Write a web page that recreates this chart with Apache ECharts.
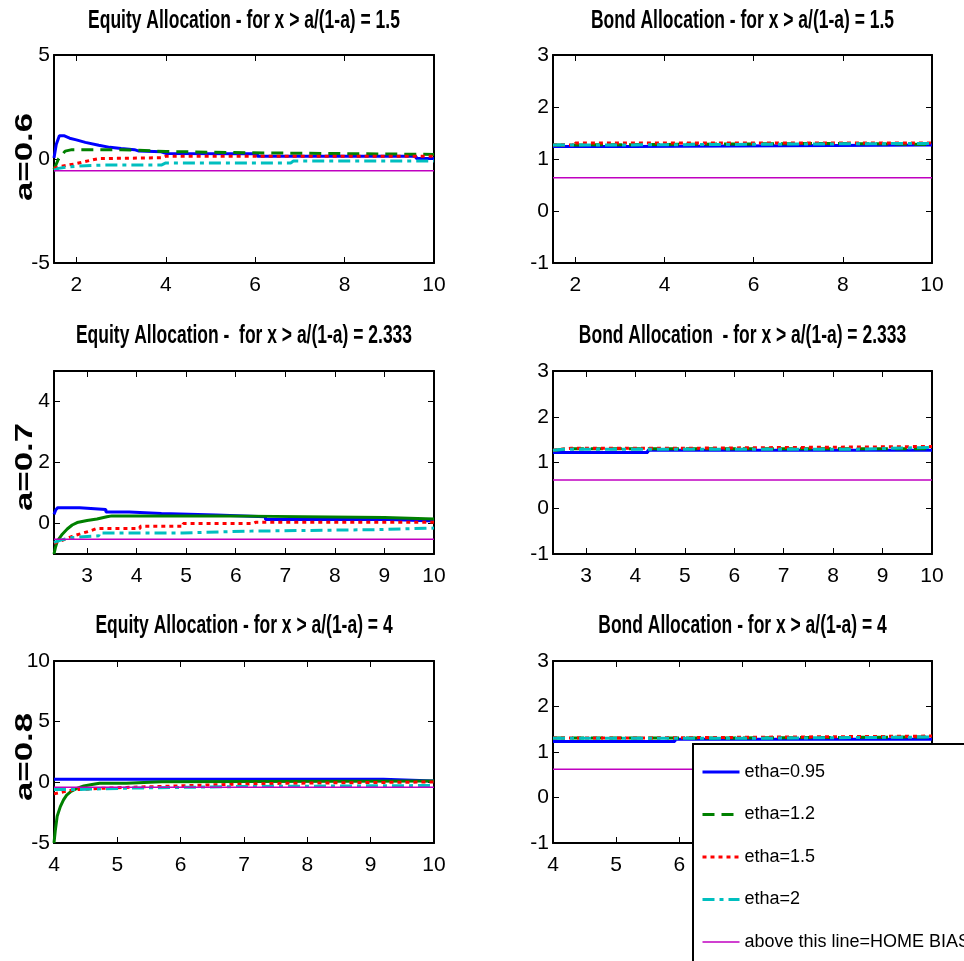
<!DOCTYPE html>
<html><head><meta charset="utf-8">
<script src="https://cdn.jsdelivr.net/npm/echarts@6/dist/echarts.min.js"></script>
<style>html,body{margin:0;padding:0;background:#fff}#c{width:964px;height:961px}</style>
</head><body><div id="c"></div><script>
// ---------- data ----------
const seriesNames = ['etha=0.95', 'etha=1.2', 'etha=1.5', 'etha=2', 'above this line=HOME BIAS'];
const panelTitles = [
  'Equity Allocation - for x > a/(1-a) = 1.5',
  'Bond Allocation - for x > a/(1-a) = 1.5',
  'Equity Allocation -  for x > a/(1-a) = 2.333',
  'Bond Allocation  - for x > a/(1-a) = 2.333',
  'Equity Allocation - for x > a/(1-a) = 4',
  'Bond Allocation - for x > a/(1-a) = 4'
];
const rowLabels = ['a=0.6', 'a=0.7', 'a=0.8'];

const xRange1 = [1.5, 10], xRange2 = [2.333, 10], xRange3 = [4, 10];
const xTicks1 = [2, 4, 6, 8, 10];
const xTicks2 = [3, 4, 5, 6, 7, 8, 9, 10];
const xTicks3 = [4, 5, 6, 7, 8, 9, 10];
const yRangeEq1 = [-5, 5], yTicksEq1 = [-5, 0, 5];
const yRangeEq2 = [-1, 5], yTicksEq2 = [0, 2, 4];
const yRangeEq3 = [-5, 10], yTicksEq3 = [-5, 0, 5, 10];
const yRangeBond = [-1, 3], yTicksBond = [-1, 0, 1, 2, 3];

// a = 0.6, equity
const eq06_blue = [[1.5,0.05],[1.55,0.7],[1.62,1.12],[1.72,1.12],[1.85,1.0],[2.0,0.92],[2.2,0.8],[2.5,0.66],[2.75,0.56],[3.0,0.5],[3.3,0.45],[3.4,0.38],[3.9,0.35],[4.0,0.27],[6.05,0.25],[6.05,0.13],[9.6,0.13],[9.6,0.03],[10,0.03]];
const eq06_green = [[1.5,-0.5],[1.6,0.0],[1.75,0.38],[1.9,0.45],[3.0,0.45],[3.0,0.36],[4.0,0.36],[4.0,0.3],[5.8,0.3],[5.8,0.24],[10,0.22]];
const eq06_red = [[1.5,-0.45],[1.6,-0.38],[1.8,-0.3],[2.0,-0.22],[2.2,-0.12],[2.4,-0.02],[2.5,0.02],[3.9,0.06],[4.0,0.13],[10,0.13]];
const eq06_cyan = [[1.5,-0.55],[1.6,-0.45],[1.8,-0.38],[2.2,-0.32],[2.6,-0.29],[3.9,-0.29],[4.0,-0.19],[6.8,-0.19],[6.85,-0.1],[10,-0.1]];
const eq06_home = [[1.5,-0.56],[10,-0.56]];
// a = 0.6, bond
const bd06_blue = [[1.5,1.24],[3.3,1.24],[3.3,1.27],[10,1.27]];
const bd06_green = [[1.5,1.27],[2.0,1.27],[2.0,1.3],[7.8,1.3],[7.8,1.28],[10,1.28]];
const bd06_red = [[1.5,1.27],[2.0,1.27],[2.0,1.31],[10,1.31]];
const bd06_cyan = [[1.5,1.27],[3.0,1.27],[3.0,1.3],[10,1.3]];
const bd06_home = [[1.5,0.64],[10,0.64]];
// a = 0.7, equity
const eq07_blue = [[2.333,0.3],[2.37,0.45],[2.41,0.52],[2.85,0.52],[2.85,0.46],[3.38,0.46],[3.38,0.38],[3.85,0.38],[3.85,0.33],[4.5,0.33],[4.5,0.28],[5.6,0.28],[5.6,0.22],[6.6,0.22],[6.6,0.13],[9.1,0.13],[9.1,0.08],[10,0.08]];
const eq07_green = [[2.333,-1.0],[2.36,-0.8],[2.4,-0.58],[2.5,-0.35],[2.6,-0.18],[2.7,-0.05],[2.8,0.03],[3.0,0.1],[3.2,0.15],[3.4,0.22],[3.5,0.25],[5.7,0.25],[5.7,0.2],[9.0,0.2],[9.0,0.15],[10,0.15]];
const eq07_red = [[2.333,-0.65],[2.5,-0.55],[2.7,-0.42],[2.9,-0.32],[3.05,-0.25],[3.2,-0.16],[4.07,-0.16],[4.07,-0.09],[4.94,-0.09],[4.94,0.0],[6.35,0.0],[6.4,0.04],[10,0.04]];
const eq07_cyan = [[2.333,-0.62],[2.5,-0.53],[2.7,-0.46],[3.24,-0.4],[3.24,-0.31],[4.93,-0.31],[4.93,-0.25],[6.3,-0.25],[6.3,-0.2],[8.85,-0.2],[8.85,-0.15],[10,-0.15]];
const eq07_home = [[2.333,-0.52],[10,-0.52]];
// a = 0.7, bond
const bd07_blue = [[2.333,1.22],[4.25,1.22],[4.25,1.27],[10,1.27]];
const bd07_green = [[2.333,1.26],[2.6,1.3],[10,1.3]];
const bd07_red = [[2.333,1.27],[2.7,1.31],[4.8,1.31],[4.8,1.35],[10,1.35]];
const bd07_cyan = [[2.333,1.27],[2.6,1.29],[8.4,1.29],[8.4,1.33],[10,1.33]];
const bd07_home = [[2.333,0.62],[10,0.62]];
// a = 0.8, equity
const eq08_blue = [[4,0.26],[9.2,0.26],[9.2,0.12],[10,0.12]];
const eq08_green = [[4,-5],[4.02,-4],[4.05,-2.8],[4.1,-2.0],[4.15,-1.45],[4.2,-1.05],[4.26,-0.78],[4.36,-0.5],[4.47,-0.3],[4.6,-0.18],[4.72,-0.08],[5.14,-0.08],[5.14,0.05],[5.7,0.05],[5.7,0.1],[10,0.12]];
const eq08_red = [[4,-0.95],[4.15,-0.78],[4.3,-0.62],[4.72,-0.5],[5.14,-0.42],[5.14,-0.3],[5.93,-0.3],[5.93,-0.16],[6.83,-0.16],[6.83,-0.08],[7.62,-0.08],[7.62,0.03],[10,0.03]];
const eq08_cyan = [[4,-0.6],[4.3,-0.6],[4.3,-0.48],[5.14,-0.48],[5.14,-0.35],[6.85,-0.35],[6.85,-0.26],[10,-0.26]];
const eq08_home = [[4,-0.4],[10,-0.4]];
// a = 0.8, bond
const bd08_blue = [[4,1.23],[5.93,1.23],[5.93,1.28],[10,1.28]];
const bd08_green = [[4,1.31],[7.0,1.31],[7.0,1.33],[10,1.33]];
const bd08_red = [[4,1.31],[5.6,1.31],[5.6,1.35],[10,1.35]];
const bd08_cyan = [[4,1.3],[7.0,1.3],[7.0,1.33],[10,1.33]];
const bd08_home = [[4,0.62],[10,0.62]];

// ---------- layout / styles ----------
const panelData = [
  [eq06_blue, eq06_green, eq06_red, eq06_cyan, eq06_home],
  [bd06_blue, bd06_green, bd06_red, bd06_cyan, bd06_home],
  [eq07_blue, eq07_green, eq07_red, eq07_cyan, eq07_home],
  [bd07_blue, bd07_green, bd07_red, bd07_cyan, bd07_home],
  [eq08_blue, eq08_green, eq08_red, eq08_cyan, eq08_home],
  [bd08_blue, bd08_green, bd08_red, bd08_cyan, bd08_home]
];
const panelX = [[xRange1, xTicks1],[xRange1, xTicks1],[xRange2, xTicks2],[xRange2, xTicks2],[xRange3, xTicks3],[xRange3, xTicks3]];
const panelY = [[yRangeEq1, yTicksEq1],[yRangeBond, yTicksBond],[yRangeEq2, yTicksEq2],[yRangeBond, yTicksBond],[yRangeEq3, yTicksEq3],[yRangeBond, yTicksBond]];
const gridBoxes = [
  {left:54, top:55, width:380, height:208},
  {left:553, top:55, width:379, height:208},
  {left:54, top:371, width:380, height:183},
  {left:553, top:371, width:379, height:183},
  {left:54, top:661, width:380, height:182},
  {left:553, top:661, width:379, height:182}
];
const titleY = [21, 336, 626];
const rowLabelY = [157, 467, 757];
const SANS = '"Liberation Sans", Arial, Helvetica, sans-serif';
const lineStyles = [
  {color:'#0000ff', width:3, type:'solid'},
  {color:'#008000', width:3, type:[12,7]},
  {color:'#ff0000', width:3, type:[4,4]},
  {color:'#00bfbf', width:3, type:[12,5,4,5]},
  {color:'#c000c0', width:1.5, type:'solid'}
];
const solidGreenPanels = [2, 4];

const grids = [], xAxes = [], yAxes = [], series = [], graphics = [];
const axisLine = {show:true, onZero:false, lineStyle:{color:'#000', width:2}};
const tickStyle = {color:'#000', width:1};
const labelStyle = {color:'#000', fontFamily:SANS, fontSize:21};

gridBoxes.forEach((g, i) => {
  grids.push(Object.assign({containLabel:false}, g));
  const [xr, xt] = panelX[i];
  const [yr, yt] = panelY[i];
  xAxes.push({type:'value', gridIndex:i, position:'bottom', min:xr[0], max:xr[1],
    axisLine, splitLine:{show:false},
    axisTick:{show:true, inside:true, length:6, lineStyle:tickStyle, customValues:xt},
    axisLabel:Object.assign({margin:12, customValues:xt}, labelStyle)});
  xAxes.push({type:'value', gridIndex:i, position:'top', min:xr[0], max:xr[1],
    axisLine, splitLine:{show:false},
    axisTick:{show:true, inside:true, length:6, lineStyle:tickStyle, customValues:xt},
    axisLabel:{show:false}});
  yAxes.push({type:'value', gridIndex:i, position:'left', min:yr[0], max:yr[1],
    axisLine, splitLine:{show:false},
    axisTick:{show:true, inside:true, length:6, lineStyle:tickStyle, customValues:yt},
    axisLabel:Object.assign({margin:4, customValues:yt}, labelStyle)});
  yAxes.push({type:'value', gridIndex:i, position:'right', min:yr[0], max:yr[1],
    axisLine, splitLine:{show:false},
    axisTick:{show:true, inside:true, length:6, lineStyle:tickStyle, customValues:yt},
    axisLabel:{show:false}});
  panelData[i].forEach((d, k) => {
    const ls = Object.assign({cap:'butt'}, lineStyles[k]);
    if (k === 1 && solidGreenPanels.includes(i)) ls.type = 'solid';
    series.push({type:'line', name:seriesNames[k], xAxisIndex:2*i, yAxisIndex:2*i,
      data:d, symbol:'none', showSymbol:false, lineStyle:ls, itemStyle:{color:lineStyles[k].color},
      clip:true, animation:false, silent:true});
  });
  graphics.push({type:'text', x:g.left + g.width/2, y:titleY[Math.floor(i/2)], scaleX:0.92, scaleY:1.35, z:10,
    style:{text:panelTitles[i], x:0, y:0, font:'bold 19px ' + SANS, fill:'#000',
      textAlign:'center', textVerticalAlign:'middle'}});
});
rowLabels.forEach((t, r) => {
  graphics.push({type:'text', x:25, y:rowLabelY[r], rotation:Math.PI/2, scaleX:1.45, z:10,
    style:{text:t, x:0, y:0, font:'bold 24px ' + SANS, fill:'#000',
      textAlign:'center', textVerticalAlign:'middle'}});
});
graphics.push({type:'rect', z:50, shape:{x:693, y:744, width:300, height:260},
  style:{fill:'#fff', stroke:'#000', lineWidth:2}});

const legendData = seriesNames.map((n, k) => ({name:n, lineStyle:{width:lineStyles[k].width}}));

const chart = echarts.init(document.getElementById('c'), null, {renderer:'canvas'});
chart.setOption({
  animation:false,
  backgroundColor:'#fff',
  grid:grids, xAxis:xAxes, yAxis:yAxes, series,
  graphic:graphics,
  legend:{show:true, z:60, orient:'vertical', left:701, top:760, padding:0,
    itemWidth:37, itemHeight:14, itemGap:18.5, selectedMode:false,
    itemStyle:{opacity:0},
    data:legendData,
    textStyle:{fontFamily:SANS, fontSize:18, lineHeight:24, color:'#000'}}
});
</script></body></html>
